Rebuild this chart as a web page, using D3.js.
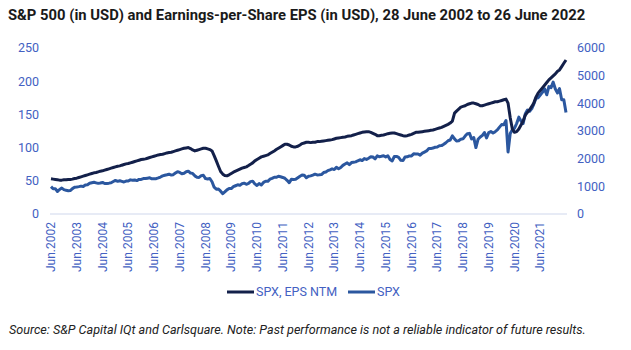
<!DOCTYPE html>
<meta charset="utf-8">
<title>S&amp;P 500 and EPS</title>
<style>
body { margin: 0; background: #fff; }
svg { font-family: Roboto, sans-serif; display: block; }
</style>
<svg width="631" height="350"></svg>
<script src="https://d3js.org/d3.v7.min.js"></script>
<script>

var title = "S&P 500 (in USD) and Earnings-per-Share EPS (in USD), 28 June 2002 to 26 June 2022";
var source = "Source: S&P Capital IQt and Carlsquare. Note: Past performance is not a reliable indicator of future results.";
var seriesNames = ["SPX, EPS NTM", "SPX"];
var leftTicks = [0, 50, 100, 150, 200, 250];
var rightTicks = [0, 1000, 2000, 3000, 4000, 5000, 6000];
var startDate = new Date(2002, 5, 28);

// monthly, Jun 2002 .. Jun 2022
var eps = [
  53, 52.5, 52, 51.5, 51, 51, 51.5,
  51.5, 52, 52, 52.5, 53.5, 54, 55, 56, 57, 58, 59, 60,
  61, 62, 62.5, 63.5, 64.5, 65, 66, 67, 68, 69, 70, 71,
  72, 72.5, 73.5, 74.5, 75.5, 76, 77, 78, 79, 80, 81, 82,
  82.5, 83, 84, 85, 86, 87, 88, 89, 89.5, 90, 91, 92,
  92.5, 93, 94, 95, 96, 97, 98, 99, 99.5, 100, 98.5, 96.5,
  95, 96, 97, 98, 99, 99, 98, 97, 95, 88, 80, 72,
  64, 60, 58, 57.5, 59, 61, 63, 64.5, 66, 67.5, 69, 70,
  71, 73, 75, 77, 80, 82, 84, 86, 87, 88, 89, 91,
  93, 95, 97, 99, 101, 103, 105, 105, 104, 102, 101, 101,
  102, 104, 106, 107, 108, 108, 107.5, 108, 108, 109, 109, 109.5,
  110, 110.5, 111, 111.5, 112, 113, 114, 114.5, 115, 115.5, 116, 117,
  117.5, 118, 119, 120, 121, 122, 123, 123.5, 124, 124, 123, 121.5,
  120, 118, 118, 118.5, 119, 120, 121, 121.5, 122, 122, 121, 120,
  119, 118, 117.5, 118, 119, 120, 121.5, 123, 123, 123.5, 124, 124.5,
  125, 125.5, 126, 126.5, 127.5, 128.5, 129.5, 130.5, 132, 133.5, 135, 137,
  140, 152, 155, 158, 161, 162, 163, 165, 166, 167, 167, 166,
  165, 163, 163, 164, 165, 166, 167, 168, 169, 169, 170, 171,
  172, 173, 167, 145, 128, 123, 124, 128, 134, 140, 149, 153,
  157, 162, 167, 176, 182, 186, 190, 194, 198, 202, 205, 208,
  211, 215, 217, 222, 227, 232
];

var spx = [
  990, 912, 916, 815, 886, 936, 880,
  856, 841, 848, 917, 964, 975, 990, 1008, 996, 1051, 1058, 1112,
  1131, 1145, 1126, 1107, 1121, 1141, 1102, 1104, 1115, 1130, 1174, 1212,
  1181, 1204, 1181, 1157, 1192, 1191, 1234, 1220, 1229, 1207, 1249, 1248,
  1280, 1281, 1295, 1311, 1270, 1270, 1277, 1304, 1336, 1378, 1401, 1418,
  1438, 1407, 1421, 1482, 1531, 1503, 1455, 1474, 1527, 1549, 1481, 1468,
  1379, 1331, 1323, 1386, 1400, 1280, 1267, 1283, 1166, 969, 896, 903,
  826, 735, 798, 873, 919, 919, 987, 1021, 1057, 1036, 1096, 1115,
  1074, 1104, 1169, 1187, 1089, 1031, 1102, 1049, 1141, 1183, 1181, 1258,
  1286, 1327, 1326, 1364, 1345, 1321, 1292, 1219, 1131, 1253, 1247, 1258,
  1312, 1366, 1408, 1398, 1310, 1362, 1379, 1407, 1441, 1412, 1416, 1426,
  1498, 1515, 1569, 1598, 1631, 1606, 1686, 1633, 1682, 1757, 1806, 1848,
  1783, 1859, 1872, 1884, 1924, 1960, 1931, 2003, 1972, 2018, 2068, 2059,
  1995, 2105, 2068, 2086, 2107, 2063, 2104, 1972, 1920, 2079, 2080, 2044,
  1940, 1932, 2060, 2065, 2097, 2099, 2174, 2171, 2168, 2126, 2199, 2239,
  2279, 2364, 2363, 2384, 2412, 2423, 2470, 2472, 2519, 2575, 2648, 2674,
  2824, 2714, 2641, 2648, 2705, 2718, 2816, 2902, 2914, 2712, 2760, 2400,
  2704, 2784, 2834, 2946, 2752, 2942, 2980, 2926, 2977, 3038, 3141, 3231,
  3226, 3380, 2240, 2912, 3044, 3100, 3271, 3500, 3363, 3270, 3622, 3756,
  3714, 3811, 3973, 4181, 4204, 4298, 4395, 4523, 4308, 4605, 4567, 4766,
  4516, 4374, 4530, 4132, 4132, 3670
];

var colors = ["#13204a", "#2b579f"];
var tickColor = "#4361c2";

var svg = d3.select("svg");

var dates = eps.map(function(d, i) { return d3.timeMonth.offset(startDate, i); });

var x = d3.scaleTime()
    .domain([dates[0], dates[dates.length - 1]])
    .range([51, 566]);

var yL = d3.scaleLinear().domain([0, 250]).range([214, 48]);
var yR = d3.scaleLinear().domain([0, 6000]).range([214, 48]);

// title
svg.append("text")
    .attr("x", 8)
    .attr("y", 20)
    .attr("font-size", 14.8)
    .attr("font-weight", "bold")
    .attr("fill", "#1a1a1a")
    .text(title);

// baseline
svg.append("line")
    .attr("x1", 50).attr("x2", 567)
    .attr("y1", yL(0)).attr("y2", yL(0))
    .attr("stroke", "#cfd7ec")
    .attr("stroke-width", 1);

// left axis labels
svg.selectAll(".lt")
  .data(leftTicks)
  .enter().append("text")
    .attr("x", 39)
    .attr("y", function(d) { return yL(d); })
    .attr("dy", "0.35em")
    .attr("text-anchor", "end")
    .attr("font-size", 12.5)
    .attr("fill", tickColor)
    .text(function(d) { return d; });

// right axis labels
svg.selectAll(".rt")
  .data(rightTicks)
  .enter().append("text")
    .attr("x", 577)
    .attr("y", function(d) { return yR(d); })
    .attr("dy", "0.35em")
    .attr("font-size", 12.5)
    .attr("fill", tickColor)
    .text(function(d) { return d; });

// x labels (every June)
var yearDates = dates.filter(function(d, i) { return i % 12 === 0 && i < dates.length - 1; });
svg.selectAll(".xt")
  .data(yearDates)
  .enter().append("text")
    .attr("transform", function(d) { return "translate(" + x(d) + ",222) rotate(-90)"; })
    .attr("dy", "0.35em")
    .attr("text-anchor", "end")
    .attr("font-size", 12)
    .attr("fill", tickColor)
    .text(function(d) { return "Jun." + d.getFullYear(); });

var lineL = d3.line()
    .x(function(d, i) { return x(dates[i]); })
    .y(function(d) { return yL(d); });

var lineR = d3.line()
    .x(function(d, i) { return x(dates[i]); })
    .y(function(d) { return yR(d); });

svg.append("path")
    .attr("d", lineR(spx))
    .attr("fill", "none")
    .attr("stroke", colors[1])
    .attr("stroke-width", 3)
    .attr("stroke-linejoin", "round");

svg.append("path")
    .attr("d", lineL(eps))
    .attr("fill", "none")
    .attr("stroke", colors[0])
    .attr("stroke-width", 3)
    .attr("stroke-linejoin", "round");

// legend
var legendX = [227, 348];
seriesNames.forEach(function(name, i) {
  svg.append("line")
      .attr("x1", legendX[i]).attr("x2", legendX[i] + 27)
      .attr("y1", 292).attr("y2", 292)
      .attr("stroke", colors[i])
      .attr("stroke-width", 3);
  svg.append("text")
      .attr("x", legendX[i] + 29)
      .attr("y", 292)
      .attr("dy", "0.35em")
      .attr("font-size", 12.5)
      .attr("fill", tickColor)
      .text(name);
});

// source
svg.append("text")
    .attr("x", 9)
    .attr("y", 334)
    .attr("font-size", 12.6)
    .attr("font-style", "italic")
    .attr("fill", "#222")
    .text(source);

</script>
